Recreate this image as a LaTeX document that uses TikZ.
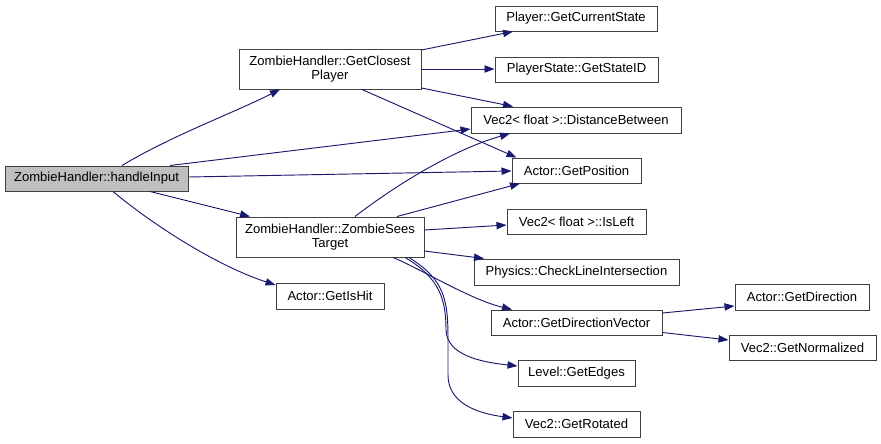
\documentclass[tikz,border=0pt]{standalone}
\usepackage{fontspec}
\setmainfont{Liberation Sans}
\usetikzlibrary{arrows.meta}
\definecolor{edgeblue}{HTML}{191970}
\definecolor{rootfill}{HTML}{BFBFBF}
\definecolor{boxline}{HTML}{404040}
\newcommand\mybox[7][]{\node[box,#1,minimum width={(#5-#3)*0.75pt},minimum height={(#6-#4)*0.75pt}] (#2) at ({(#3+#5)/2},{(#4+#6)/2}) {#7};}
\begin{document}
\begin{tikzpicture}[x=0.75pt,y=-0.75pt,
  box/.style={draw=boxline,line width=0.75pt,fill=white,inner sep=0pt,align=center,font=\fontsize{9.8}{10.5}\selectfont},
  edge/.style={draw=edgeblue,line width=0.7pt,-{Triangle[length=7.5pt,width=5.5pt]}}]
\useasboundingbox (0,0) rectangle (881,443);
\mybox[fill=rootfill]{hi}{5}{166}{188}{191}{ZombieHandler::handleInput}
\mybox{gcp}{239}{49}{421}{89}{ZombieHandler::GetClosest\\Player}
\mybox{zst}{236}{217}{424}{257}{ZombieHandler::ZombieSees\\Target}
\mybox{hit}{276}{283}{384}{309}{Actor::GetIsHit}
\mybox{gcs}{495}{6}{657}{31}{Player::GetCurrentState}
\mybox{gsid}{495}{57}{658}{82}{PlayerState::GetStateID}
\mybox{db}{471}{107}{681}{133}{Vec2{\char`<} float {\char`>}::DistanceBetween}
\mybox{gp}{512}{158}{641}{183}{Actor::GetPosition}
\mybox{il}{507}{209}{646}{234}{Vec2{\char`<} float {\char`>}::IsLeft}
\mybox{cli}{474}{259}{679}{285}{Physics::CheckLineIntersection}
\mybox{gdv}{491}{310}{662}{335}{Actor::GetDirectionVector}
\mybox{gd}{735}{284}{869}{310}{Actor::GetDirection}
\mybox{gn}{729}{335}{876}{360}{Vec2::GetNormalized}
\mybox{ge}{518}{360}{635}{386}{Level::GetEdges}
\mybox{gr}{513}{411}{640}{437}{Vec2::GetRotated}
% edges from handleInput
\draw[edge] ([shift={(25.5,0)}]hi.north) .. controls +(50,-30) and +(-50,25) .. ([shift={(-50,0)}]gcp.south);
\draw[edge] ([shift={(73.5,0)}]hi.north) -- ([shift={(0,9)}]db.west);
\draw[edge] ([shift={(0,-1.5)}]hi.east) -- ([shift={(0,0.5)}]gp.west);
\draw[edge] ([shift={(53.5,0)}]hi.south) -- ([shift={(-80,0)}]zst.north);
\draw[edge] ([shift={(16.5,0)}]hi.south) .. controls +(37,31) and +(-61,-20) .. ([shift={(0,-11)}]hit.west);
% edges from GetClosestPlayer
\draw[edge] ([shift={(0,-19)}]gcp.east) -- ([shift={(-63,0)}]gcs.south);
\draw[edge] (gcp.east) -- (gcp.east -| gsid.west);
\draw[edge] ([shift={(0,19)}]gcp.east) -- ([shift={(-63,0)}]db.north);
\draw[edge] ([shift={(32,0)}]gcp.south) -- ([shift={(-60,0)}]gp.north);
% edges from ZombieSeesTarget
\draw[edge] ([shift={(25,0)}]zst.north) .. controls +(35,-27) and +(-60,17) .. ([shift={(-66,0)}]db.south);
\draw[edge] ([shift={(67,0)}]zst.north) -- ([shift={(-56.5,0)}]gp.south);
\draw[edge] ([shift={(0,-7)}]zst.east) -- ([shift={(0,3.5)}]il.west);
\draw[edge] ([shift={(0,14)}]zst.east) -- ([shift={(-92.5,0)}]cli.north);
\draw[edge] ([shift={(63,0)}]zst.south) .. controls +(27,11) and +(-42,-10) .. ([shift={(-64.5,0)}]gdv.north);
\draw[edge] ([shift={(75,0)}]zst.south) .. controls (440,278) and (446,300) .. (446,330) .. controls (447,355) and (480,362) .. ([shift={(0,-7)}]ge.west);
\draw[edge] ([shift={(79,0)}]zst.south) .. controls (445,280) and (448,300) .. (448,340) -- (448,375) .. controls (448,402) and (475,413) .. ([shift={(0,-6)}]gr.west);
% edges from GetDirectionVector
\draw[edge] ([shift={(0,-9.5)}]gdv.east) -- ([shift={(0,9)}]gd.west);
\draw[edge] ([shift={(0,10)}]gdv.east) -- ([shift={(0,-7.5)}]gn.west);
\end{tikzpicture}
\end{document}
